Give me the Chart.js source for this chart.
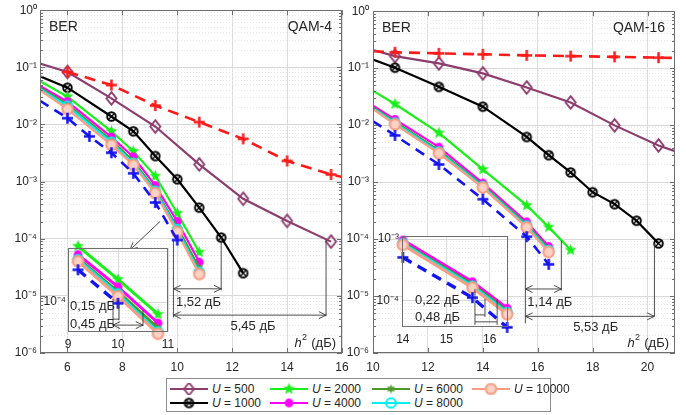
<!DOCTYPE html>
<html>
<head>
<meta charset="utf-8">
<script src="https://cdn.jsdelivr.net/npm/chart.js@4.4.1/dist/chart.umd.min.js"></script>
<style>
  body { margin: 0; width: 686px; height: 415px; overflow: hidden; position: relative; background: #fff;
         font-family: "Liberation Sans", Arial, sans-serif; }
  canvas.layer { position: absolute; left: 0; top: 0; }
  #legend { position: absolute; left: 166px; top: 378px; width: 383px; height: 32px;
            border: 1px solid #8c8c8c; background: #fff; }
  .item { position: absolute; height: 14px; font-size: 12px; line-height: 14px; color: #262626; white-space: nowrap; }
  .item canvas { position: absolute; left: 0; top: 1px; }
  .item span { position: absolute; left: 42px; top: 0; }
</style>
</head>
<body>
<canvas id="qam4" class="layer" width="686" height="415"></canvas>
<canvas id="qam16" class="layer" width="686" height="415"></canvas>
<canvas id="zoom4" class="layer" width="686" height="415"></canvas>
<canvas id="zoom16" class="layer" width="686" height="415"></canvas>
<div id="legend"></div>
<script>
// ---- QAM-4: BER vs h^2 (dB) ----
const h2_4_u500 = [5, 6, 7.6, 9.2, 10.8, 12.4, 14, 15.6];
const ber4_u500 = [0.116, 0.083, 0.0286, 0.0092, 0.0020, 5.0e-4, 2.05e-4, 8.9e-5];
const h2_4_u1000 = [5, 6, 7.6, 8.4, 9.2, 10, 10.8, 11.6, 12.4];
const ber4_u1000 = [0.070, 0.044, 0.0138, 0.0076, 0.0028, 0.0011, 3.5e-4, 1.05e-4, 2.5e-5];
const h2_4 = [5, 6, 7.6, 8.4, 9.2, 10, 10.8];
const ber4_u2000 = [0.057, 0.0307, 0.0076, 0.0034, 0.00125, 2.8e-4, 5.8e-5];
const ber4_u4000 = [0.047, 0.025, 0.0060, 0.0027, 8.5e-4, 2.0e-4, 3.9e-5];
const ber4_u6000 = [0.044, 0.0225, 0.0053, 0.0023, 7.2e-4, 1.6e-4, 3.1e-5];
const ber4_u8000 = [0.042, 0.021, 0.0049, 0.0021, 6.8e-4, 1.45e-4, 2.6e-5];
const ber4_u10000 = [0.040, 0.0185, 0.0044, 0.00195, 6.3e-4, 1.3e-4, 2.4e-5];
const h2_4_single = [6, 7.6, 9.2, 10.8, 12.4, 14, 15.6, 16];
const ber4_single = [0.083, 0.049, 0.0214, 0.011, 0.0056, 0.0023, 0.00133, 0.0012];
const h2_4_bound = [5, 6, 6.8, 7.6, 8.4, 9.2, 10];
const ber4_bound = [0.026, 0.0129, 0.0062, 0.0032, 0.0014, 4.3e-4, 9.5e-5];

// ---- QAM-16 ----
const h2_16_wide = [10, 10.8, 12.4, 14, 15.6, 17.2, 18.8, 20.4, 21];
const ber16_u500 = [0.207, 0.163, 0.121, 0.081, 0.0458, 0.025, 0.0099, 0.0044, 0.0035];
const ber16_single = [0.198, 0.19, 0.182, 0.175, 0.168, 0.163, 0.158, 0.153, 0.151];
const h2_16_u1000 = [10, 10.8, 12.4, 14, 15.6, 16.4, 17.2, 18, 18.8, 19.6, 20.4];
const ber16_u1000 = [0.142, 0.102, 0.047, 0.0211, 0.0062, 0.00297, 0.00148, 6.65e-4, 4.1e-4, 2.1e-4, 8.4e-5];
const h2_16_u2000 = [10, 10.8, 12.4, 14, 15.6, 16.4, 17.2];
const ber16_u2000 = [0.040, 0.0235, 0.0073, 0.00167, 3.9e-4, 1.62e-4, 6.4e-5];
const h2_16 = [10, 10.8, 12.4, 14, 15.6, 16.4];
const ber16_u4000 = [0.022, 0.0126, 0.0041, 9.6e-4, 2.0e-4, 7.4e-5];
const ber16_u6000 = [0.0205, 0.0115, 0.0036, 8.8e-4, 1.8e-4, 6.7e-5];
const ber16_u8000 = [0.0198, 0.0109, 0.0034, 8.4e-4, 1.7e-4, 6.3e-5];
const ber16_u10000 = [0.019, 0.0103, 0.0032, 8.0e-4, 1.6e-4, 5.9e-5];
const ber16_bound = [0.0117, 0.0066, 0.00204, 5.0e-4, 1.1e-4, 3.6e-5];

// axes
const xTicks4 = [6, 8, 10, 12, 14, 16];
const xTicks16 = [10, 12, 14, 16, 18, 20];
const xTicksZoom4 = [9, 10, 11];
const xTicksZoom16 = [14, 15, 16];
const berLabels = [1e-6, 1e-5, 1e-4, 1e-3, 1e-2, 1e-1, 1];
const berLabelsZoom4 = [1e-4];
const berLabelsZoom16 = [1e-3, 1e-4];
const uLabels = ['500', '1000', '2000', '4000', '6000', '8000', '10000'];

const FONT = '"Liberation Sans", Arial, Helvetica, sans-serif';
const INK = '#262626';
Chart.defaults.font.family = FONT;
Chart.defaults.color = INK;

const uColors = ['#8c3d6e', '#000000', '#19ef19', '#ff00ff', '#4c9a2a', '#00eeee', '#f99c82'];
const uMarks = ['diamond', 'ringx', 'star', 'dot', 'spark', 'ring', 'disc'];

function mark(kind, color) {
  const c = document.createElement('canvas');
  c.width = c.height = 17;
  const g = c.getContext('2d');
  g.translate(8.5, 8.5);
  g.strokeStyle = color;
  g.fillStyle = color;
  g.lineWidth = 1.9;
  g.beginPath();
  if (kind === 'diamond') {
    g.moveTo(0, -6.3); g.lineTo(5, 0); g.lineTo(0, 6.3); g.lineTo(-5, 0); g.closePath();
    g.stroke();
  } else if (kind === 'ringx') {
    g.arc(0, 0, 4.3, 0, 2 * Math.PI); g.stroke();
    g.beginPath(); g.lineWidth = 1.3;
    g.moveTo(-2.7, -2.7); g.lineTo(2.7, 2.7); g.moveTo(2.7, -2.7); g.lineTo(-2.7, 2.7);
    g.stroke();
  } else if (kind === 'star') {
    for (let i = 0; i < 10; i++) {
      const r = i % 2 ? 2.7 : 6.3, a = -Math.PI / 2 + i * Math.PI / 5;
      g.lineTo(r * Math.cos(a), r * Math.sin(a));
    }
    g.closePath(); g.fill();
  } else if (kind === 'dot') {
    g.arc(0, 0, 4.4, 0, 2 * Math.PI); g.fill();
  } else if (kind === 'spark') {
    for (let i = 0; i < 12; i++) {
      const r = i % 2 ? 2.3 : 4.8, a = -Math.PI / 2 + i * Math.PI / 6;
      g.lineTo(r * Math.cos(a), r * Math.sin(a));
    }
    g.closePath(); g.fill();
  } else if (kind === 'ring') {
    g.lineWidth = 2; g.arc(0, 0, 4.8, 0, 2 * Math.PI); g.stroke();
  } else if (kind === 'disc') {
    g.arc(0, 0, 5.2, 0, 2 * Math.PI); g.fillStyle = '#fcd2c5'; g.fill();
    g.lineWidth = 2; g.stroke();
  } else if (kind === 'plus') {
    g.lineWidth = 2.5;
    g.moveTo(-5.5, 0); g.lineTo(5.5, 0); g.moveTo(0, -5.5); g.lineTo(0, 5.5);
    g.stroke();
  }
  return c;
}

const uStyle = uColors.map((c, i) => ({ color: c, width: 2.2, img: mark(uMarks[i], c) }));
const singleStyle = { color: '#ff1a1a', width: 2.6, dash: [11, 7], img: mark('plus', '#ff1a1a') };
const boundStyle = { color: '#1414f0', width: 2.6, dash: [10, 7], img: mark('plus', '#1414f0') };

const pts = (xs, ys) => xs.map((x, i) => ({ x, y: ys[i] }));

function isDecade(v) {
  const l = Math.log10(v);
  return Math.abs(l - Math.round(l)) < 1e-6;
}
const SUP = { '0': '⁰', '1': '¹', '2': '²', '3': '³', '4': '⁴', '5': '⁵', '6': '⁶', '7': '⁷', '8': '⁸', '9': '⁹', '-': '⁻' };
function powLabel(v) {
  const e = Math.round(Math.log10(v));
  return '10' + String(e).split('').map(ch => SUP[ch]).join('');
}
// 1..9 x 10^k inside [lo, hi]
function logTicks(lo, hi) {
  const out = [];
  for (let e = Math.floor(Math.log10(lo)); e <= Math.ceil(Math.log10(hi)); e++) {
    for (let m = 1; m < 10; m++) {
      const v = m * Math.pow(10, e);
      if (v >= lo * 0.9999 && v <= hi * 1.0001) out.push({ value: v });
    }
  }
  return out;
}

function line(data, st, zoomed) {
  const ds = {
    data: data,
    borderColor: st.color,
    backgroundColor: st.color,
    borderWidth: zoomed ? st.width + 0.8 : st.width,
    borderDash: st.dash || [],
    pointStyle: st.img,
    pointBorderWidth: 0,
    pointRadius: c => {
      const s = c.chart.scales.x;
      if (!c.raw || !s) return 4;
      return (c.raw.x <= s.min || c.raw.x >= s.max) ? 0 : 4;
    },
    tension: 0,
    fill: false
  };
  if (zoomed) ds.clip = false;
  return ds;
}

function xAxis(lo, hi, height, list, pad) {
  return {
    type: 'linear', min: lo, max: hi,
    afterFit: s => { s.height = height; },
    afterBuildTicks: s => { s.ticks = list.map(v => ({ value: v })); },
    ticks: { autoSkip: false, maxRotation: 0, padding: pad, color: INK, font: { size: 12 }, callback: v => String(v) },
    grid: { drawTicks: false, color: '#dcdcdc' },
    border: { display: false }
  };
}

function yAxis(lo, hi, width, labelled, pad) {
  return {
    type: 'logarithmic', min: lo, max: hi,
    afterFit: s => { s.width = width; },
    afterBuildTicks: s => { s.ticks = logTicks(lo, hi); },
    ticks: {
      autoSkip: false, padding: pad, color: INK, font: { size: 12 },
      callback: v => labelled.some(d => Math.abs(d / v - 1) < 1e-6) ? powLabel(v) : ''
    },
    grid: { drawTicks: false, color: c => (c.tick && isDecade(c.tick.value)) ? '#d8d8d8' : '#e8e8e8' },
    border: { display: false, dash: c => (c.tick && !isDecade(c.tick.value)) ? [1, 2] : [] }
  };
}

// box, inward ticks and the corner captions
function frame(o) {
  return {
    id: 'frame',
    beforeDraw(chart) {
      if (!o.paper) return;
      const a = chart.chartArea, g = chart.ctx;
      g.save();
      g.fillStyle = '#fff';
      g.fillRect(a.left, a.top, a.right - a.left, a.bottom - a.top);
      g.restore();
    },
    afterDraw(chart) {
      const a = chart.chartArea, g = chart.ctx, sx = chart.scales.x, sy = chart.scales.y;
      g.save();
      g.strokeStyle = o.edge;
      g.lineWidth = 1;
      g.strokeRect(Math.round(a.left) + 0.5, Math.round(a.top) + 0.5,
                   Math.round(a.right - a.left) - 1, Math.round(a.bottom - a.top) - 1);
      if (o.ticks) {
        g.beginPath();
        sy.ticks.forEach(t => {
          const p = Math.round(sy.getPixelForValue(t.value)) + 0.5, l = isDecade(t.value) ? 5 : 3;
          g.moveTo(a.left, p); g.lineTo(a.left + l, p);
          g.moveTo(a.right, p); g.lineTo(a.right - l, p);
        });
        sx.ticks.forEach(t => {
          const p = Math.round(sx.getPixelForValue(t.value)) + 0.5;
          g.moveTo(p, a.bottom); g.lineTo(p, a.bottom - 5);
          g.moveTo(p, a.top); g.lineTo(p, a.top + 5);
        });
        g.stroke();
      }
      g.fillStyle = INK;
      g.textBaseline = 'middle';
      if (o.corner) {
        g.font = '14px ' + FONT;
        g.textAlign = 'left';
        g.fillText(o.corner[0], a.left + 9, a.top + 17);
        g.textAlign = 'right';
        g.fillText(o.corner[1], a.right - 10, a.top + 17);
      }
      if (o.unit) {
        const yb = a.bottom - 10, tail = ' (дБ)';
        g.textAlign = 'left';
        g.font = '13px ' + FONT; const wTail = g.measureText(tail).width;
        g.font = '9px ' + FONT; const wSup = g.measureText('2').width;
        g.font = 'italic 13px ' + FONT; const wH = g.measureText('h').width;
        const x0 = a.right - 6 - wTail - wSup - wH - 1;
        g.fillText('h', x0, yb);
        g.font = '9px ' + FONT;
        g.fillText('2', x0 + wH + 0.5, yb - 5);
        g.font = '13px ' + FONT;
        g.fillText(tail, x0 + wH + wSup + 1, yb);
      }
      g.restore();
    }
  };
}

function arrowHead(g, x1, y1, x2, y2) {
  const a = Math.atan2(y2 - y1, x2 - x1), L = 8, s = 0.45;
  g.moveTo(x2 - L * Math.cos(a - s), y2 - L * Math.sin(a - s));
  g.lineTo(x2, y2);
  g.lineTo(x2 - L * Math.cos(a + s), y2 - L * Math.sin(a + s));
}

// dimension lines and their captions, placed in data units
function notes(items) {
  return {
    id: 'notes',
    afterDatasetsDraw(chart) {
      const g = chart.ctx, sx = chart.scales.x, sy = chart.scales.y;
      const P = p => [sx.getPixelForValue(p[0]), sy.getPixelForValue(p[1])];
      g.save();
      g.strokeStyle = '#3a3a3a';
      g.lineWidth = 0.9;
      g.fillStyle = INK;
      g.font = '13px ' + FONT;
      g.textBaseline = 'middle';
      items.forEach(it => {
        if (it.text) {
          const [px, py] = P(it.at);
          g.textAlign = it.align || 'center';
          g.fillText(it.text, px, py);
          return;
        }
        const [x1, y1] = P(it.from), [x2, y2] = P(it.to);
        g.beginPath();
        g.moveTo(x1, y1); g.lineTo(x2, y2);
        if (it.head === 'end' || it.head === 'both') arrowHead(g, x1, y1, x2, y2);
        if (it.head === 'both') arrowHead(g, x2, y2, x1, y1);
        g.stroke();
      });
      g.restore();
    }
  };
}

function panel(id, pad, xr, xt, yr, yw, ylab, ypad, sets, deco, items, xpad) {
  return new Chart(document.getElementById(id), {
    type: 'line',
    data: { datasets: sets },
    options: {
      responsive: false, animation: false, events: [],
      layout: { padding: pad },
      plugins: { legend: { display: false }, tooltip: { enabled: false } },
      scales: {
        x: xAxis(xr[0], xr[1], 22, xt, xpad),
        y: yAxis(yr[0], yr[1], yw, ylab, ypad)
      }
    },
    plugins: [frame(deco), notes(items)]
  });
}

const inRange = (p, r) => p.x >= r[0] && p.x <= r[1];

// QAM-4 main
const sets4 = [
  line(pts(h2_4_bound, ber4_bound), boundStyle),
  line(pts(h2_4_single, ber4_single), singleStyle),
  line(pts(h2_4, ber4_u10000), uStyle[6]),
  line(pts(h2_4, ber4_u8000), uStyle[5]),
  line(pts(h2_4, ber4_u6000), uStyle[4]),
  line(pts(h2_4, ber4_u4000), uStyle[3]),
  line(pts(h2_4, ber4_u2000), uStyle[2]),
  line(pts(h2_4_u1000, ber4_u1000), uStyle[1]),
  line(pts(h2_4_u500, ber4_u500), uStyle[0])
];
panel('qam4', { left: 0, top: 8, right: 344, bottom: 40 }, [5, 16], xTicks4, [1e-6, 1], 40, berLabels, 3,
  sets4, { edge: '#6e6e6e', ticks: true, corner: ['BER', 'QAM-4'], unit: true }, [
    { from: [9.37, 2.0e-4], to: [8.28, 6.4e-5], head: 'end' },
    { from: [9.86, 9.2e-5], to: [9.86, 4.2e-6] },
    { from: [11.6, 1.05e-4], to: [11.6, 1.25e-5] },
    { from: [9.86, 1.33e-5], to: [11.6, 1.33e-5], head: 'both' },
    { from: [15.42, 9.5e-5], to: [15.42, 4.4e-6] },
    { from: [9.86, 4.6e-6], to: [15.42, 4.6e-6], head: 'both' },
    { text: '1,52 дБ', at: [10.77, 7.7e-6] },
    { text: '5,45 дБ', at: [12.76, 2.95e-6] }
  ], 7);

// QAM-16 main
const sets16 = [
  line(pts(h2_16, ber16_bound), boundStyle),
  line(pts(h2_16_wide, ber16_single), singleStyle),
  line(pts(h2_16, ber16_u10000), uStyle[6]),
  line(pts(h2_16, ber16_u8000), uStyle[5]),
  line(pts(h2_16, ber16_u6000), uStyle[4]),
  line(pts(h2_16, ber16_u4000), uStyle[3]),
  line(pts(h2_16_u2000, ber16_u2000), uStyle[2]),
  line(pts(h2_16_u1000, ber16_u1000), uStyle[1]),
  line(pts(h2_16_wide, ber16_u500), uStyle[0])
];
panel('qam16', { left: 345, top: 8, right: 11, bottom: 40 }, [10, 21], xTicks16, [1e-6, 1], 28, berLabels, 4,
  sets16, { edge: '#6e6e6e', ticks: true, corner: ['BER', 'QAM-16'], unit: true }, [
    { from: [15.55, 1.03e-4], to: [15.55, 3.3e-6] },
    { from: [16.86, 9.4e-5], to: [16.86, 1.25e-5] },
    { from: [15.55, 1.33e-5], to: [16.86, 1.33e-5], head: 'both' },
    { from: [20.25, 8.4e-5], to: [20.25, 4.4e-6] },
    { from: [15.55, 4.4e-6], to: [20.25, 4.4e-6], head: 'both' },
    { text: '1,14 дБ', at: [16.44, 7.7e-6] },
    { text: '5,53 дБ', at: [18.11, 2.83e-6] }
  ], 7);

// QAM-4 close-up
const zx4 = [9, 11];
const zoomSets4 = [
  line(pts(h2_4_bound, ber4_bound).filter(p => inRange(p, zx4)), boundStyle, true),
  line(pts(h2_4, ber4_u10000).filter(p => inRange(p, zx4)), uStyle[6], true),
  line(pts(h2_4, ber4_u8000).filter(p => inRange(p, zx4)), uStyle[5], true),
  line(pts(h2_4, ber4_u6000).filter(p => inRange(p, zx4)), uStyle[4], true),
  line(pts(h2_4, ber4_u4000).filter(p => inRange(p, zx4)), uStyle[3], true),
  line(pts(h2_4, ber4_u2000).filter(p => inRange(p, zx4)), uStyle[2], true)
];
panel('zoom4', { left: 40, top: 248, right: 518, bottom: 61 }, zx4, xTicksZoom4, [2.6e-5, 1.15e-3], 28, berLabelsZoom4, 2,
  zoomSets4, { edge: '#6e6e6e', paper: true }, [
    { from: [9.9, 1.15e-4], to: [9.9, 3.39e-5] },
    { from: [10.02, 9.6e-5], to: [10.02, 4.44e-5] },
    { from: [10.5, 6.97e-5], to: [10.5, 3.39e-5] },
    { from: [9.9, 4.64e-5], to: [10.02, 4.64e-5] },
    { from: [9.9, 3.55e-5], to: [10.5, 3.55e-5], head: 'both' },
    { text: '0,15 дБ', at: [9.04, 8.35e-5], align: 'left' },
    { text: '0,45 дБ', at: [9.04, 3.7e-5], align: 'left' }
  ], 5);

// QAM-16 close-up
const zx16 = [13.98, 16.42];
const zoomSets16 = [
  line(pts(h2_16, ber16_bound).filter(p => inRange(p, zx16)), boundStyle, true),
  line(pts(h2_16, ber16_u10000).filter(p => inRange(p, zx16)), uStyle[6], true),
  line(pts(h2_16, ber16_u8000).filter(p => inRange(p, zx16)), uStyle[5], true),
  line(pts(h2_16, ber16_u6000).filter(p => inRange(p, zx16)), uStyle[4], true),
  line(pts(h2_16, ber16_u4000).filter(p => inRange(p, zx16)), uStyle[3], true)
];
panel('zoom16', { left: 374, top: 236, right: 178, bottom: 66 }, zx16, xTicksZoom16, [3.65e-5, 1.12e-3], 28, berLabelsZoom16, 3,
  zoomSets16, { edge: '#6e6e6e', paper: true }, [
    { from: [15.66, 1.53e-4], to: [15.66, 3.95e-5] },
    { from: [15.89, 1.05e-4], to: [15.89, 5.35e-5] },
    { from: [16.17, 1.05e-4], to: [16.17, 3.95e-5] },
    { from: [15.66, 5.75e-5], to: [15.89, 5.75e-5] },
    { from: [15.66, 4.43e-5], to: [16.17, 4.43e-5] },
    { text: '0,22 дБ', at: [14.28, 9.75e-5], align: 'left' },
    { text: '0,48 дБ', at: [14.28, 5.14e-5], align: 'left' }
  ], 5);

// legend: two rows, filled column by column
const legend = document.getElementById('legend');
const colX = [3, 103, 205, 305];
const rowY = [3, 17];
uLabels.forEach((u, i) => {
  const item = document.createElement('div');
  item.className = 'item';
  item.style.left = colX[Math.floor(i / 2)] + 'px';
  item.style.top = rowY[i % 2] + 'px';
  const c = document.createElement('canvas');
  c.width = 38; c.height = 12;
  const g = c.getContext('2d');
  g.strokeStyle = uStyle[i].color;
  g.lineWidth = 2;
  g.beginPath(); g.moveTo(0, 6); g.lineTo(38, 6); g.stroke();
  g.drawImage(uStyle[i].img, 19 - 8.5, 6 - 8.5);
  const s = document.createElement('span');
  s.innerHTML = '<i>U</i> = ' + u;
  item.appendChild(c);
  item.appendChild(s);
  legend.appendChild(item);
});
</script>
</body>
</html>
